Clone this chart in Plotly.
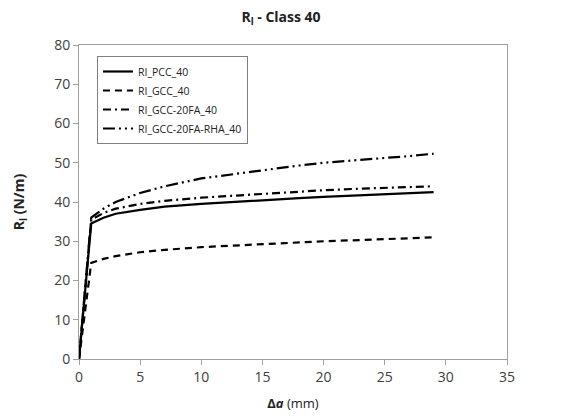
import plotly.graph_objects as go

x_pcc = [0, 1, 2, 3, 5, 7, 10, 13, 15, 18, 20, 23, 25, 27, 29]
y_pcc = [0, 34.5, 36.0, 37.0, 38.0, 38.8, 39.5, 40.1, 40.5, 41.0, 41.3, 41.7, 42.0, 42.3, 42.5]

x_gcc = [0, 1, 2, 3, 5, 7, 10, 13, 15, 18, 20, 23, 25, 27, 29]
y_gcc = [0, 24.5, 25.5, 26.2, 27.2, 27.8, 28.5, 29.0, 29.3, 29.7, 30.0, 30.3, 30.5, 30.8, 31.0]

x_fa = [0, 1, 2, 3, 5, 7, 10, 13, 15, 18, 20, 23, 25, 27, 29]
y_fa = [0, 35.5, 37.2, 38.3, 39.5, 40.3, 41.1, 41.7, 42.1, 42.7, 43.0, 43.4, 43.6, 43.8, 44.0]

x_rha = [0, 1, 2, 3, 5, 7, 10, 13, 15, 18, 20, 23, 25, 27, 29]
y_rha = [0, 36.0, 38.3, 40.0, 42.3, 44.0, 46.0, 47.3, 48.1, 49.3, 50.0, 50.7, 51.2, 51.7, 52.3]

names = ["RI_PCC_40", "RI_GCC_40", "RI_GCC-20FA_40", "RI_GCC-20FA-RHA_40"]
dashes = ["solid", "7px,5px", "8px,4px,2px,4px", "12px,4px,2px,4px,2px,4px"]

fig = go.Figure()
for xs, ys, nm, d in zip([x_pcc, x_gcc, x_fa, x_rha], [y_pcc, y_gcc, y_fa, y_rha], names, dashes):
    fig.add_trace(go.Scatter(x=xs, y=ys, name=nm, mode="lines",
                             line=dict(color="black", width=2.2, dash=d)))

axis_common = dict(showgrid=False, zeroline=False, showline=True, linecolor="#a0a0a0",
                   linewidth=1, mirror=True, ticks="outside", tickcolor="#a0a0a0",
                   ticklen=5, automargin=False,
                   tickfont=dict(size=14, color="#404040", family="Open Sans"))

fig.update_layout(
    width=562, height=417,
    margin=dict(l=79, r=55, t=45, b=58),
    paper_bgcolor="white", plot_bgcolor="white",
    title=dict(text="<b>R<sub>l</sub> - Class 40</b>", x=0.5, xanchor="center",
               y=0.958, yanchor="middle", font=dict(size=14, color="#222", family="Open Sans")),
    xaxis=dict(range=[0, 35], dtick=5,
               title=dict(text="<b>Δ<i>a</i></b> (mm)", standoff=14,
                          font=dict(size=13, color="#222", family="Open Sans")),
               **axis_common),
    yaxis=dict(range=[0, 80], dtick=10,
               title=dict(text="<b>R<sub>l</sub> (N/m)</b>", standoff=26,
                          font=dict(size=14, color="#222", family="Open Sans")),
               **axis_common),
    legend=dict(x=0.042, y=0.965, xanchor="left", yanchor="top",
                bordercolor="#808080", borderwidth=1, bgcolor="white",
                font=dict(size=10.5, color="#222", family="Open Sans"),
                tracegroupgap=0, itemwidth=30),
    showlegend=True,
)

fig.write_html("out.html")
